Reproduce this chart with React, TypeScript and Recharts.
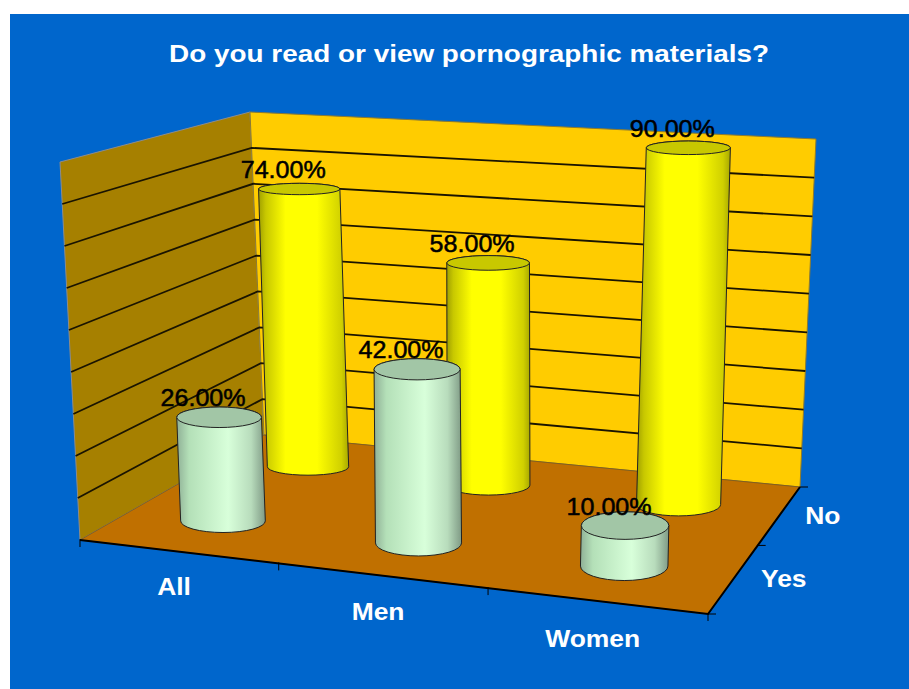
import { BarChart, Bar, XAxis, YAxis, Customized, LabelList } from 'recharts'

const categories = ['All', 'Men', 'Women']
const yesValues = [26, 42, 10]
const noValues = [74, 58, 90]
const depthLabels = ['Yes', 'No']
const depthPositions = [0.25, 0.75]
const gridTicks = [10, 20, 30, 40, 50, 60, 70, 80]
const Y_MAX = 90

const data = categories.map((category, i) => ({ category, yes: yesValues[i], no: noValues[i] }))

const PLOT = { left: 80, width: 628, top: 100, height: 440 }
const FONT = '"Liberation Sans", Arial, sans-serif'

// corners of the box on screen: floor and ceiling, u runs along categories, v goes back
const FLOOR = { fl: [80, 540], fr: [708, 614], bl: [264, 435], br: [800, 487] }
const CEIL = { fl: [60, 162], fr: [721, 204], bl: [250, 112], br: [816, 139] }

const warpU = (u: number) => 0.924 * u + 0.076 * u * u
const warpV = (v: number) => 1.16 * v - 0.16 * v * v

function corner(q: typeof FLOOR, u: number, v: number) {
  const mix = (a: number, b: number, t: number) => a + (b - a) * t
  const fx = mix(q.fl[0], q.fr[0], u)
  const fy = mix(q.fl[1], q.fr[1], u)
  const bx = mix(q.bl[0], q.br[0], u)
  const by = mix(q.bl[1], q.br[1], u)
  return [mix(fx, bx, v), mix(fy, by, v)]
}

function place(u: number, v: number, w: number) {
  const a = corner(FLOOR, warpU(u), warpV(v))
  const b = corner(CEIL, warpU(u), warpV(v))
  return [a[0] + (b[0] - a[0]) * w, a[1] + (b[1] - a[1]) * w]
}

const poly = (pts: number[][]) => pts.map((p) => p.join(',')).join(' ')

function Backdrop() {
  const floor = [place(0, 0, 0), place(1, 0, 0), place(1, 1, 0), place(0, 1, 0)]
  const leftWall = [place(0, 0, 0), place(0, 0, 1), place(0, 1, 1), place(0, 1, 0)]
  const backWall = [place(0, 1, 0), place(0, 1, 1), place(1, 1, 1), place(1, 1, 0)]
  const levels = gridTicks.map((t) => t / Y_MAX)
  return (
    <g>
      <defs>
        <linearGradient id="yellowBody" x1="0" y1="0" x2="1" y2="0">
          <stop offset="0%" stopColor="#a0a000" />
          <stop offset="8%" stopColor="#c8c800" />
          <stop offset="30%" stopColor="#ffff00" />
          <stop offset="65%" stopColor="#ffff00" />
          <stop offset="92%" stopColor="#d0d000" />
          <stop offset="100%" stopColor="#a8a800" />
        </linearGradient>
        <linearGradient id="greenBody" x1="0" y1="0" x2="1" y2="0">
          <stop offset="0%" stopColor="#8fb096" />
          <stop offset="14%" stopColor="#b4e0b8" />
          <stop offset="58%" stopColor="#d8ffda" />
          <stop offset="84%" stopColor="#b8dcbc" />
          <stop offset="100%" stopColor="#7f9a85" />
        </linearGradient>
      </defs>
      <polygon points={poly(leftWall)} fill="#a68000" stroke="#8c8c8c" strokeWidth={1} />
      <polygon points={poly(backWall)} fill="#ffcc00" stroke="#8c7a30" strokeWidth={1} />
      <polygon points={poly(floor)} fill="#c07000" stroke="#7a5a20" strokeWidth={0.8} />
      {levels.map((l) => {
        const a = place(0, 0, l)
        const b = place(0, 1, l)
        const c = place(1, 1, l)
        return (
          <polyline key={l} points={poly([a, b, c])} fill="none" stroke="#1a1400" strokeWidth={1.8} />
        )
      })}
      <polyline points={poly([place(0, 0, 0), place(1, 0, 0), place(1, 1, 0)])} fill="none" stroke="#000" strokeWidth={2} />
      {[0, 1 / 3, 2 / 3, 1].map((u) => {
        const p = place(u, 0, 0)
        return <line key={u} x1={p[0]} y1={p[1] - 1} x2={p[0]} y2={p[1] + 7} stroke="#000" strokeWidth={1} />
      })}
      {[0, 0.5, 1].map((v) => {
        const p = place(1, v, 0)
        return <line key={v} x1={p[0]} y1={p[1]} x2={p[0] + 8} y2={p[1]} stroke="#000" strokeWidth={1} />
      })}
      {depthLabels.map((label, i) => {
        const v = depthPositions[i]
        const p = place(1, v, 0)
        return (
          <text key={label} transform={`translate(${p[0] + 53.5 - 14 * v},${p[1] + 1}) scale(1.15,1)`} textAnchor="middle" dominantBaseline="central" fill="#fff" fontFamily={FONT} fontWeight="bold" fontSize={23}>
            {label}
          </text>
        )
      })}
      <text x={469} y={53} textAnchor="middle" dominantBaseline="central" fill="#fff" fontFamily={FONT} fontWeight="bold" fontSize={24} textLength={600} lengthAdjust="spacingAndGlyphs">
        Do you read or view pornographic materials?
      </text>
    </g>
  )
}

function cylinderGeometry(x: number, width: number, height: number, v: number) {
  const u = (x + width / 2 - PLOT.left) / PLOT.width - 0.005
  const w = height / PLOT.height
  const base = place(u, v, 0)
  const top = place(u, v, w)
  top[1] += 2.5 * (1 - w * w * w)
  const rx = (width / 2) * (1 + 0.05 * u - 0.08 * (v - 0.25))
  const ry0 = 14.6 - 6.3 * v + 4.25 * u - 2.1
  return { base, top, rx, ryBase: ry0, ryTop: ry0 * (1 - 0.4 * w) }
}

function cylinder(v: number, body: string, cap: string) {
  return (props: any) => {
    const { x, width, height } = props
    const { base, top, rx, ryBase, ryTop } = cylinderGeometry(x, width, height, v)
    const d = [
      `M${top[0] - rx},${top[1]}`,
      `L${base[0] - rx},${base[1]}`,
      `A${rx},${ryBase} 0 0 0 ${base[0] + rx},${base[1]}`,
      `L${top[0] + rx},${top[1]}`,
      `A${rx},${ryTop} 0 0 0 ${top[0] - rx},${top[1]}`,
      'Z',
    ].join(' ')
    return (
      <g>
        <path d={d} fill={`url(#${body})`} stroke="#222" strokeWidth={1} />
        <ellipse cx={top[0]} cy={top[1]} rx={rx} ry={ryTop} fill={cap} stroke="#222" strokeWidth={1} />
      </g>
    )
  }
}

function valueLabel(v: number) {
  return (props: any) => {
    const { x, width, height, value } = props
    const { top } = cylinderGeometry(x, width, height, v)
    return (
      <text x={top[0] - 16} y={top[1] - 19} textAnchor="middle" dominantBaseline="central" fill="#000" stroke="#000" strokeWidth={0.5} fontFamily={FONT} fontSize={23} textLength={85} lengthAdjust="spacingAndGlyphs">
        {`${Number(value).toFixed(2)}%`}
      </text>
    )
  }
}

function CategoryTick(props: any) {
  const { x, payload } = props
  const u = (x - PLOT.left) / PLOT.width
  const p = place(u, 0, 0)
  return (
    <text transform={`translate(${p[0] - 4},${p[1] + 34.5 + 5 * u}) scale(1.15,1)`} textAnchor="middle" dominantBaseline="central" fill="#fff" fontFamily={FONT} fontWeight="bold" fontSize={23}>
      {payload.value}
    </text>
  )
}

export default function App() {
  return (
    <div style={{ position: 'absolute', left: 0, top: 0, width: 909, height: 689, background: '#fff', overflow: 'hidden' }}>
      <div style={{ position: 'absolute', left: 10, top: 14, right: 0, bottom: 0, background: '#0066cc' }} />
      <div style={{ position: 'absolute', left: 0, top: 0 }}>
        <BarChart
          width={909}
          height={689}
          data={data}
          margin={{ left: PLOT.left, right: 909 - PLOT.left - PLOT.width, top: PLOT.top, bottom: 689 - PLOT.top - PLOT.height - 30 }}
        >
          <Customized component={Backdrop} />
          <XAxis xAxisId="yes" dataKey="category" height={30} axisLine={false} tickLine={false} interval={0} tick={CategoryTick} />
          <XAxis xAxisId="no" dataKey="category" hide />
          <YAxis hide domain={[0, Y_MAX]} width={0} />
          <Bar xAxisId="no" dataKey="no" barSize={84} shape={cylinder(depthPositions[1], 'yellowBody', '#c8c800')} isAnimationActive={false}>
            <LabelList dataKey="no" content={valueLabel(depthPositions[1])} />
          </Bar>
          <Bar xAxisId="yes" dataKey="yes" barSize={84} shape={cylinder(depthPositions[0], 'greenBody', '#a2c6a6')} isAnimationActive={false}>
            <LabelList dataKey="yes" content={valueLabel(depthPositions[0])} />
          </Bar>
        </BarChart>
      </div>
    </div>
  )
}
